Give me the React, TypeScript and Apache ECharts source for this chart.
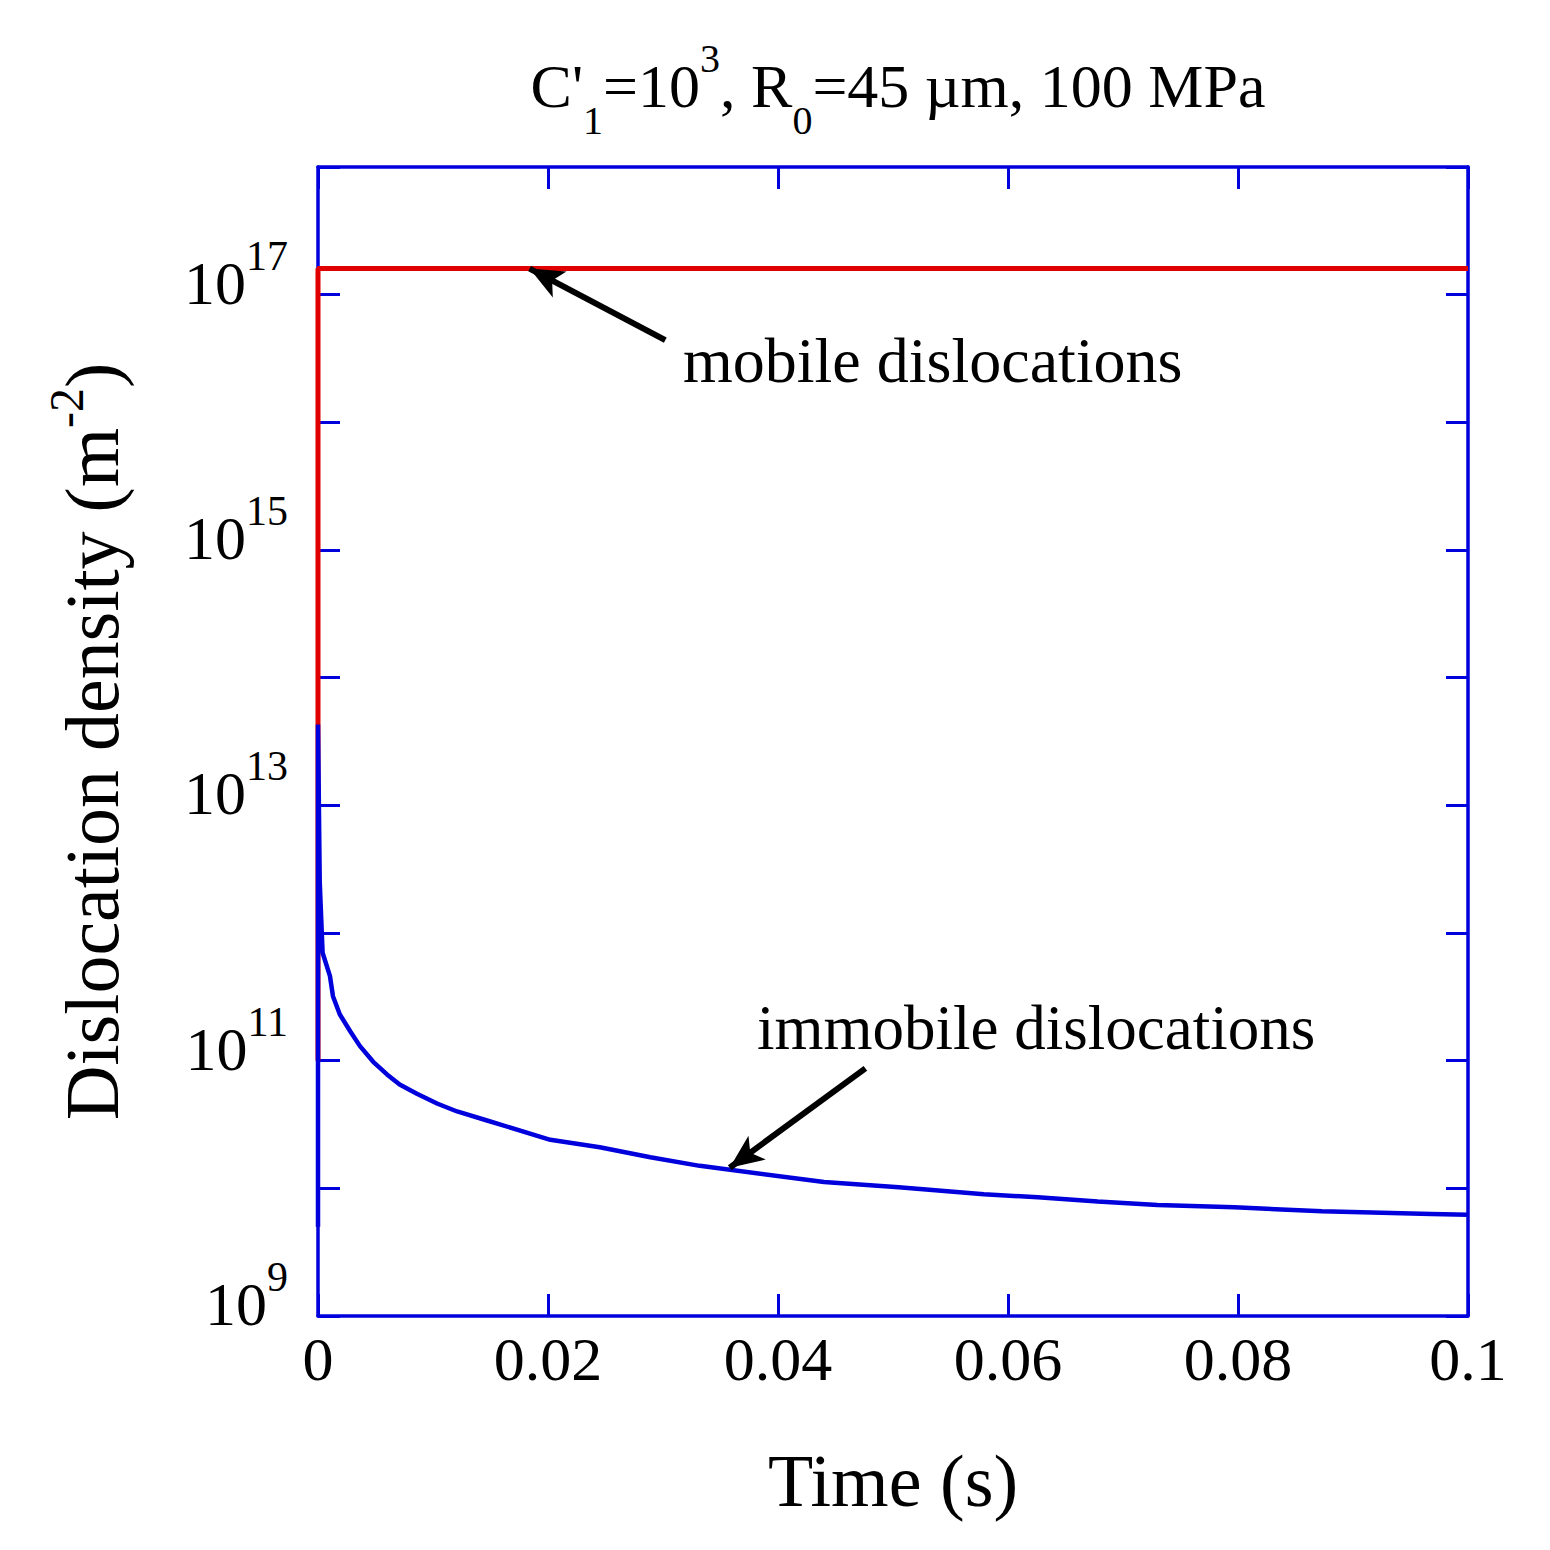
import React, { useEffect, useRef } from 'react';
import * as echarts from 'echarts';

// time axis (s) and densities (m^-2)
const mobileTime = [0, 0, 0.1];
const mobileDensity = [1e11, 1.6e17, 1.6e17];

const immobileTime = [
  0, 0, 0.00015, 0.0004, 0.00104, 0.0013, 0.0019, 0.0028, 0.00365, 0.0048, 0.006, 0.0071,
  0.0086, 0.0104, 0.0121, 0.0147, 0.0202, 0.0245, 0.0289, 0.0332, 0.044, 0.0505, 0.0579,
  0.0626, 0.0678, 0.073, 0.0797, 0.0873, 0.0968, 0.1,
];
const immobileDensity = [
  5e9, 4.3e13, 2.5e12, 7e11, 4.6e11, 3.2e11, 2.3e11, 1.7e11, 1.3e11, 9.8e10, 7.8e10, 6.5e10,
  5.5e10, 4.6e10, 4.0e10, 3.4e10, 2.4e10, 2.1e10, 1.75e10, 1.5e10, 1.12e10, 1.02e10, 9.0e9,
  8.5e9, 7.9e9, 7.4e9, 7.1e9, 6.6e9, 6.3e9, 6.2e9,
];

const xTicks = [0, 0.02, 0.04, 0.06, 0.08, 0.1];
const yMin = 1e9;
const yMax = 1e18;

// arrow annotations [tail, head] in data coordinates
const mobileArrow = [[0.0302, 4.4e16], [0.0184, 1.6e17]];
const immobileArrow = [[0.0476, 8.7e10], [0.0358, 1.45e10]];

const FONT = '"Liberation Serif", "Times New Roman", serif';
const BLUE = '#0000dd';
const RED = '#e00000';

const App: React.FC = () => {
  const chartRef = useRef<HTMLDivElement>(null);

  useEffect(() => {
    document.body.style.margin = '0';
    if (!chartRef.current) return;
    const chart = echarts.init(chartRef.current, undefined, { renderer: 'svg' });

    const gridLeft = 318;
    const gridRight = 82;
    const gridTop = 167;
    const gridBottom = 234;

    const tickCommon = {
      axisLine: { show: true, onZero: false, lineStyle: { color: BLUE, width: 3.5 } },
      axisTick: { show: true, inside: true, length: 22, lineStyle: { color: BLUE, width: 3 } },
      splitLine: { show: false },
    };

    const arrowLine = (pts: number[][]) => ({
      silent: true,
      symbol: ['none', 'arrow'],
      symbolSize: [22, 34],
      label: { show: false },
      lineStyle: { color: '#000', width: 6, type: 'solid' },
      data: [[{ coord: pts[0] }, { coord: pts[1] }]],
    });

    const txt = (size: number, extra: object = {}) => ({
      fontSize: size,
      fontFamily: FONT,
      fontWeight: 'normal',
      color: '#000',
      lineHeight: size,
      ...extra,
    });

    const option: echarts.EChartsOption = {
      animation: false,
      backgroundColor: '#fff',
      title: {
        text: "{n|C'}{sub|1}{n|=10}{sup|3}{n|, R}{sub|0}{n|=45 µm, 100 MPa}",
        left: 893,
        top: 50,
        textAlign: 'center',
        textStyle: {
          fontWeight: 'normal',
          fontFamily: FONT,
          rich: {
            n: txt(62),
            sub: txt(40, { padding: [68, 0, 0, 0] }),
            sup: txt(40, { padding: [0, 0, 56, 0] }),
          },
        },
      },
      grid: { left: gridLeft, right: gridRight, top: gridTop, bottom: gridBottom },
      xAxis: [
        {
          type: 'value',
          min: xTicks[0],
          max: xTicks[xTicks.length - 1],
          interval: 0.02,
          position: 'bottom',
          ...tickCommon,
          axisLabel: {
            margin: 12,
            fontSize: 62,
            fontFamily: FONT,
            color: '#000',
            formatter: (v: number) => String(+v.toFixed(2)),
          },
          name: 'Time (s)',
          nameLocation: 'middle',
          nameGap: 128,
          nameTextStyle: { fontSize: 74, fontFamily: FONT, color: '#000' },
        },
        {
          type: 'value',
          min: xTicks[0],
          max: xTicks[xTicks.length - 1],
          interval: 0.02,
          position: 'top',
          ...tickCommon,
          axisLabel: { show: false },
        },
      ],
      yAxis: [
        {
          type: 'log',
          logBase: 10,
          min: yMin,
          max: yMax,
          splitNumber: 9,
          position: 'left',
          ...tickCommon,
          axisLabel: {
            margin: 30,
            formatter: (v: number) => {
              const e = Math.round(Math.log10(v));
              return e % 2 === 1 ? `{b|10}{s|${e}}` : '';
            },
            rich: {
              b: txt(62, { padding: [0, 0, 24, 0] }),
              s: txt(42, { padding: [0, 0, 78, 0] }),
            },
          },
          name: '{n|Dislocation density (m}{s|-2}{n|)}',
          nameLocation: 'middle',
          nameGap: 188,
          nameTextStyle: {
            rich: {
              n: txt(76),
              s: txt(48, { padding: [0, 0, 52, 0] }),
            },
          },
        },
        {
          type: 'log',
          logBase: 10,
          min: yMin,
          max: yMax,
          splitNumber: 9,
          position: 'right',
          ...tickCommon,
          axisLabel: { show: false },
        },
      ],
      series: [
        {
          name: 'mobile dislocations',
          type: 'line',
          clip: false,
          showSymbol: false,
          symbol: 'none',
          lineStyle: { color: RED, width: 5 },
          data: mobileTime.map((t, i) => [t, mobileDensity[i]]),
          markLine: arrowLine(mobileArrow),
        },
        {
          name: 'immobile dislocations',
          type: 'line',
          clip: false,
          showSymbol: false,
          symbol: 'none',
          lineStyle: { color: BLUE, width: 4.5 },
          data: immobileTime.map((t, i) => [t, immobileDensity[i]]),
          markLine: arrowLine(immobileArrow),
        },
      ],
      graphic: [
        {
          type: 'text',
          x: 683,
          y: 360,
          style: { text: 'mobile dislocations', fontSize: 64, fontFamily: FONT, fill: '#000', verticalAlign: 'middle' },
        },
        {
          type: 'text',
          x: 757,
          y: 1028,
          style: { text: 'immobile dislocations', fontSize: 63, fontFamily: FONT, fill: '#000', verticalAlign: 'middle' },
        },
      ],
    };

    chart.setOption(option);
    return () => {
      chart.dispose();
    };
  }, []);

  return <div ref={chartRef} style={{ width: '1550px', height: '1550px' }} />;
};

export default App;
